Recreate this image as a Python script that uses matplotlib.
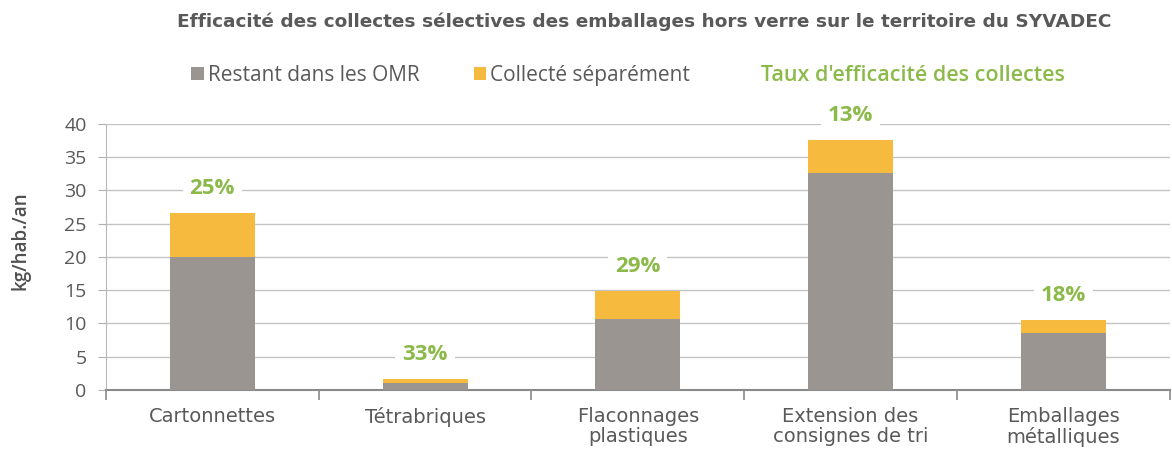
import matplotlib.pyplot as plt
from matplotlib.patches import Patch
import numpy as np

plt.rcParams['font.family'] = ['Open Sans', 'DejaVu Sans']

categories = ['Cartonnettes', 'Tétrabriques', 'Flaconnages\nplastiques',
              'Extension des\nconsignes de tri', 'Emballages\nmétalliques']
restant = [20.0, 1.07, 10.6, 32.7, 8.6]
collecte = [6.6, 0.53, 4.3, 4.9, 1.9]
taux = ['25%', '33%', '29%', '13%', '18%']
yticks = [0, 5, 10, 15, 20, 25, 30, 35, 40]

grey = '#9b9592'
yellow = '#f6bb3e'
green = '#8cba4a'
text_col = '#595959'

fig = plt.figure(figsize=(11.72, 4.55), dpi=100)
ax = fig.add_axes([0.0904, 0.1429, 0.9076, 0.5846])

x = np.arange(len(categories))
ax.bar(x, restant, width=0.4, color=grey, zorder=3)
ax.bar(x, collecte, width=0.4, bottom=restant, color=yellow, zorder=3)

# efficiency labels above bars, white box hides the gridlines
for i in range(len(categories)):
    top = restant[i] + collecte[i]
    ax.text(x[i], top + 3.7, taux[i], ha='center', va='center', color=green,
            fontsize=16, fontweight='bold', zorder=4,
            bbox=dict(facecolor='white', edgecolor='none', pad=5))

ax.set_xlim(-0.5, len(categories) - 0.5)
ax.set_ylim(0, 40)
ax.set_yticks(yticks)
ax.yaxis.grid(True, color='#c4c4c4', linewidth=1, zorder=0)
ax.set_axisbelow(True)

ax.set_xticks(x)
ax.set_xticklabels(categories, fontsize=14, color=text_col, linespacing=1.1,
                   family='DejaVu Sans')
ax.set_xticks(np.arange(-0.5, len(categories)), minor=True)
ax.tick_params(axis='x', which='major', length=0, pad=12)
ax.tick_params(axis='x', which='minor', length=7, color='#8a8a8a', width=1.2, direction='out')
ax.tick_params(axis='y', length=6, color='#b0b0b0', labelsize=14, labelcolor=text_col, pad=8)

for s in ['top', 'right']:
    ax.spines[s].set_visible(False)
ax.spines['left'].set_color('#b8b8b8')
ax.spines['bottom'].set_color('#8a8a8a')
ax.spines['bottom'].set_linewidth(1.5)

ax.set_ylabel('kg/hab./an', fontsize=13.5, color='#505050', fontweight='semibold')
ax.yaxis.set_label_coords(-0.071, 0.56)

fig.text(0.5495, 0.953, 'Efficacité des collectes sélectives des emballages hors verre sur le territoire du SYVADEC',
         ha='center', va='center', fontsize=13.3, color=text_col, fontweight='bold',
         family='DejaVu Sans')

handles = [Patch(facecolor=grey, edgecolor='none'),
           Patch(facecolor=yellow, edgecolor='none'),
           Patch(facecolor='none', edgecolor='none')]
labels = ['Restant dans les OMR', 'Collecté séparément', "Taux d'efficacité des collectes"]
leg = fig.legend(handles, labels, loc='center', bbox_to_anchor=(0.536, 0.835), ncol=3,
                 frameon=False, handlelength=0.6, handleheight=0.6,
                 handletextpad=0.2, columnspacing=2.6,
                 prop={'family': ['Open Sans', 'DejaVu Sans'], 'size': 15})
for t, c in zip(leg.get_texts(), [text_col, text_col, green]):
    t.set_color(c)
leg.get_texts()[2].set_fontweight('semibold')
leg.get_texts()[2].set_fontsize(15.5)

fig.savefig('out.png', dpi=100)
